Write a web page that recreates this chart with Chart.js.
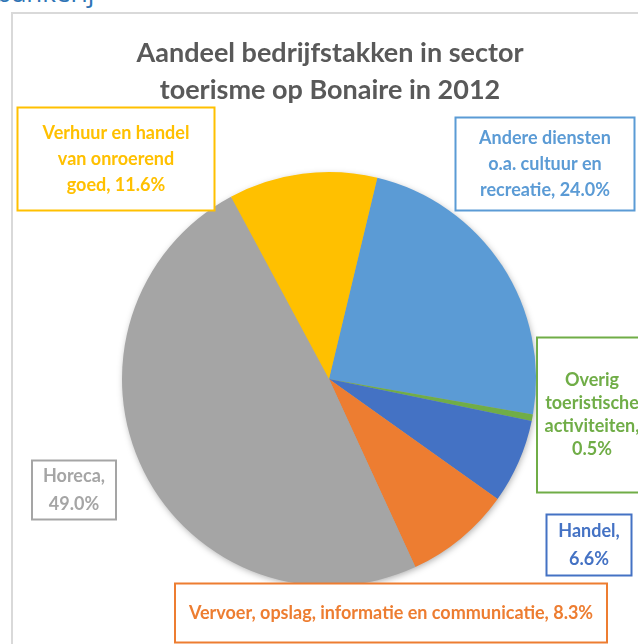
<!DOCTYPE html>
<html>
<head>
<meta charset="utf-8">
<script src="https://cdn.jsdelivr.net/npm/chart.js@4.4.0/dist/chart.umd.min.js"></script>
<style>
    html, body { margin: 0; padding: 0; background: #fff; overflow: hidden; }
    #page { position: relative; width: 638px; height: 644px; overflow: hidden; }
    #heading { position: absolute; left: -4px; top: -26px; font: 26px "Open Sans", sans-serif; color: #2E74B5; white-space: nowrap; }
    #frame { position: absolute; left: 11px; top: 12px; width: 700px; height: 700px; border: 2px solid #d9d9d9; box-sizing: border-box; }
    #chart { position: absolute; left: 0; top: 0; }
</style>
</head>
<body>
<div id="page">
    <div id="heading">bankerij</div>
    <div id="frame"></div>
    <canvas id="chart" width="638" height="644"></canvas>
</div>
<script>
// Data (slices clockwise, starting at the top right)
const categories = [
    ['Andere diensten', 'o.a. cultuur en', 'recreatie'],
    ['Overig', 'toeristische', 'activiteiten'],
    ['Handel'],
    ['Vervoer, opslag, informatie en communicatie'],
    ['Horeca'],
    ['Verhuur en handel', 'van onroerend', 'goed']
];
const shares = [24.0, 0.5, 6.6, 8.3, 49.0, 11.6];
const sliceColors = ['#5B9BD5', '#70AD47', '#4472C4', '#ED7D31', '#A5A5A5', '#FFC000'];

const titleLines = ['Aandeel bedrijfstakken in sector', 'toerisme op Bonaire in 2012'];

// Label boxes (layout only): centre x/y, width, height, line height
const labelBoxes = [
    { x: 545, y: 164, w: 179, h: 93, lh: 26 },
    { x: 592, y: 415, w: 110, h: 155, lh: 23, lastOwnLine: true },
    { x: 589, y: 545, w: 85, h: 61, lh: 28, lastOwnLine: true },
    { x: 391, y: 613, w: 432, h: 59, lh: 26 },
    { x: 74, y: 490, w: 84, h: 59, lh: 28, lastOwnLine: true },
    { x: 116, y: 159, w: 197, h: 103, lh: 26 }
];

// Soft shadow under the whole pie
const pieShadow = {
    id: 'pieShadow',
    beforeDatasetsDraw(chart) {
        const arc = chart.getDatasetMeta(0).data[0];
        if (!arc) return;
        const ctx = chart.ctx;
        ctx.save();
        ctx.shadowColor = 'rgba(0,0,0,0.35)';
        ctx.shadowBlur = 7;
        ctx.shadowOffsetX = 1;
        ctx.shadowOffsetY = 2;
        ctx.fillStyle = '#a5a5a5';
        ctx.beginPath();
        ctx.arc(arc.x, arc.y, arc.outerRadius - 1, 0, Math.PI * 2);
        ctx.fill();
        ctx.restore();
    }
};

// Title and boxed data labels
const chartText = {
    id: 'chartText',
    afterDraw(chart) {
        const ctx = chart.ctx;
        ctx.save();
        ctx.textAlign = 'center';
        ctx.textBaseline = 'middle';

        ctx.fillStyle = '#595959';
        ctx.font = 'bold 27px Lato';
        ctx.fillText(titleLines[0], 330, 53);
        ctx.fillText(titleLines[1], 330, 90);

        ctx.font = 'bold 18px Lato';
        categories.forEach((cat, i) => {
            const box = labelBoxes[i];
            const value = shares[i].toFixed(1) + '%';
            const lines = cat.slice();
            if (box.lastOwnLine) {
                lines[lines.length - 1] += ',';
                lines.push(value);
            } else {
                lines[lines.length - 1] += ', ' + value;
            }

            ctx.fillStyle = '#fff';
            ctx.fillRect(box.x - box.w / 2, box.y - box.h / 2, box.w, box.h);
            ctx.strokeStyle = sliceColors[i];
            ctx.lineWidth = 2;
            ctx.strokeRect(box.x - box.w / 2, box.y - box.h / 2, box.w, box.h);

            ctx.fillStyle = sliceColors[i];
            const top = box.y - (lines.length - 1) * box.lh / 2;
            lines.forEach((line, j) => {
                ctx.fillText(line, box.x, top + j * box.lh);
            });
        });
        ctx.restore();
    }
};

new Chart(document.getElementById('chart'), {
    type: 'pie',
    data: {
        labels: categories,
        datasets: [{
            data: shares,
            backgroundColor: sliceColors,
            borderWidth: 0
        }]
    },
    options: {
        responsive: false,
        animation: false,
        rotation: 13.5,
        layout: { padding: { left: 122, right: 102, top: 172, bottom: 58 } },
        plugins: {
            legend: { display: false },
            tooltip: { enabled: false }
        }
    },
    plugins: [pieShadow, chartText]
});
</script>
</body>
</html>
